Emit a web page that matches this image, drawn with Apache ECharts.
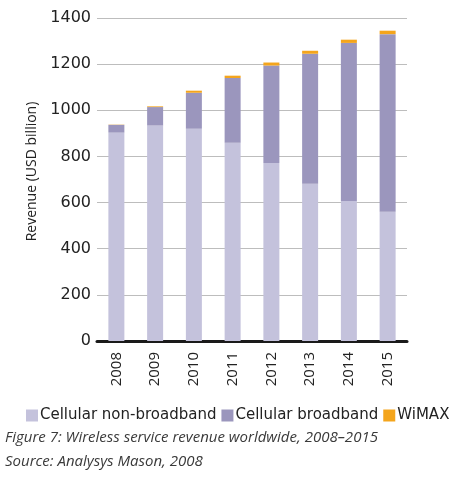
<!DOCTYPE html>
<html>
<head>
<meta charset="utf-8">
<script src="https://cdn.jsdelivr.net/npm/echarts@6/dist/echarts.min.js"></script>
<style>
  html, body { margin: 0; padding: 0; background: #fff; }
  #chart { width: 462px; height: 478px; }
</style>
</head>
<body>
<div id="chart"></div>
<script>
// data
var years = ['2008', '2009', '2010', '2011', '2012', '2013', '2014', '2015'];
var nonBroadband = [903, 934, 920, 859, 772, 682, 607, 560];
var broadband = [34, 80, 156, 281, 422, 563, 685, 770];
var wimax = [1, 3, 9, 10, 13, 13, 14, 15];
var yTicks = [0, 200, 400, 600, 800, 1000, 1200, 1400];

var font = 'Open Sans';
var wide = 'DejaVu Sans';
var myChart = echarts.init(document.getElementById('chart'));

var option = {
  animation: false,
  textStyle: { fontFamily: font },
  grid: { left: 97, right: 55, top: 18, bottom: 137 },
  legend: {
    data: ['Cellular non-broadband', 'Cellular broadband', 'WiMAX'],
    left: 26,
    top: 408,
    padding: 0,
    itemWidth: 12,
    itemHeight: 12,
    itemGap: 5,
    icon: 'rect',
    textStyle: { fontFamily: wide, fontSize: 15, color: '#222', padding: [0, 0, 0, -3] }
  },
  xAxis: {
    type: 'category',
    data: years,
    axisLine: { lineStyle: { color: '#1a1a1a', width: 3 } },
    axisTick: { show: false },
    axisLabel: { rotate: 90, fontSize: 15, color: '#222', margin: 11, fontFamily: font }
  },
  yAxis: {
    type: 'value',
    min: yTicks[0],
    max: yTicks[yTicks.length - 1],
    interval: 200,
    name: 'Revenue (USD billion)',
    nameLocation: 'middle',
    nameGap: 57,
    nameTextStyle: { fontSize: 14, color: '#222', fontFamily: font, padding: [0, 0, 0, 16] },
    axisLine: { show: false },
    axisTick: { show: false },
    axisLabel: {
      fontSize: 16, color: '#222', margin: 6, fontFamily: wide,
      formatter: function (v) { return String(v); }
    },
    splitLine: { lineStyle: { color: '#bdbdbd', width: 1 } }
  },
  series: [
    {
      name: 'Cellular non-broadband',
      type: 'bar',
      stack: 'rev',
      barWidth: 16,
      itemStyle: { color: '#c4c2dc' },
      data: nonBroadband
    },
    {
      name: 'Cellular broadband',
      type: 'bar',
      stack: 'rev',
      itemStyle: { color: '#9b96bd' },
      data: broadband
    },
    {
      name: 'WiMAX',
      type: 'bar',
      stack: 'rev',
      itemStyle: { color: '#f4a51c' },
      data: wimax
    }
  ],
  graphic: [
    {
      type: 'text', left: 5, top: 430,
      style: { text: 'Figure 7: Wireless service revenue worldwide, 2008\u20132015', font: 'italic 15px "Open Sans"', fill: '#3a3a3a' }
    },
    {
      type: 'text', left: 5, top: 454,
      style: { text: 'Source: Analysys Mason, 2008', font: 'italic 15px "Open Sans"', fill: '#3a3a3a' }
    }
  ]
};

myChart.setOption(option);
</script>
</body>
</html>
